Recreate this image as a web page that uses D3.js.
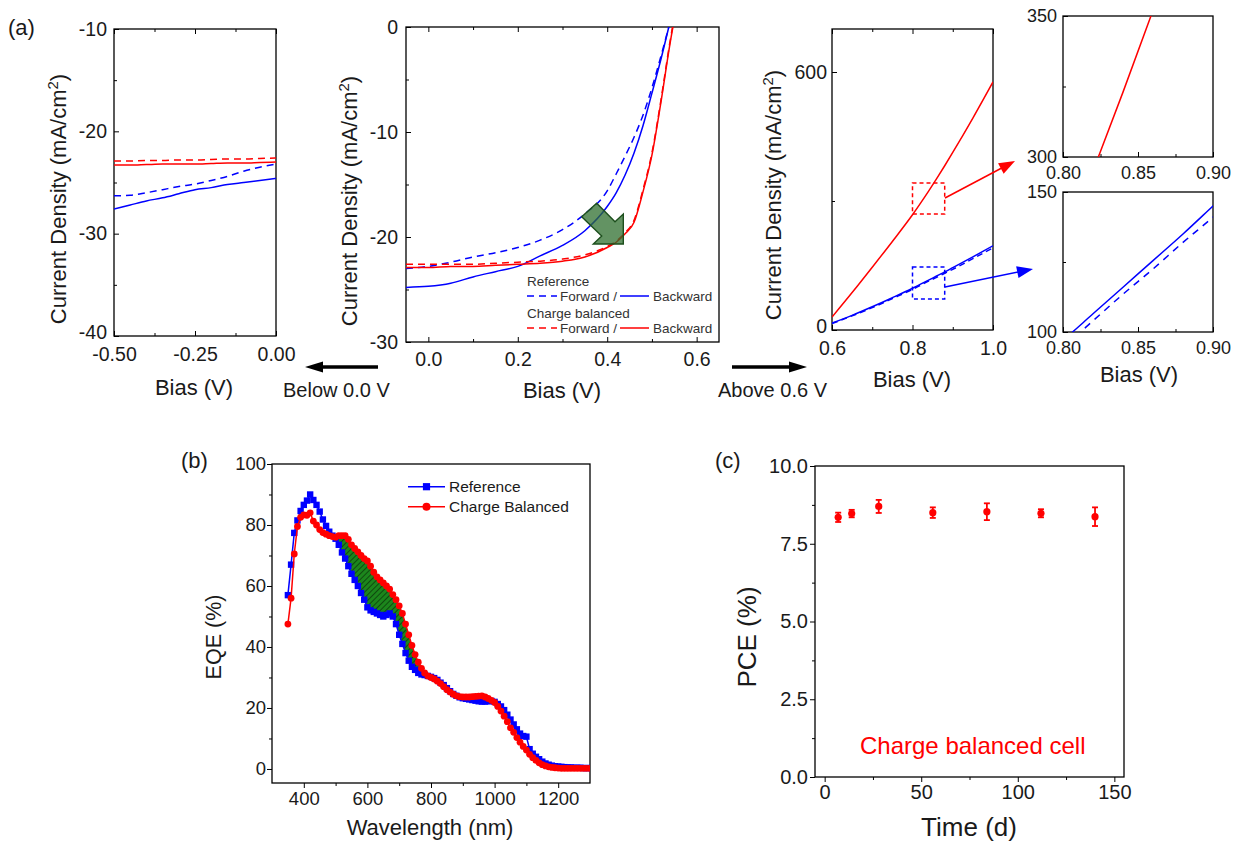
<!DOCTYPE html>
<html>
<head>
<meta charset="utf-8">
<script src="https://cdn.jsdelivr.net/npm/d3@7"></script>
<style>
  body { margin: 0; background: #fff; }
  svg { font-family: Arial, "Liberation Sans", sans-serif; }
</style>
</head>
<body>
<svg id="fig" width="1234" height="842"></svg>
<script>
// ---- (a) J-V data, below 0 V
const biasBelow = [-0.5, -0.45, -0.4, -0.35, -0.3, -0.25, -0.2, -0.15, -0.1, -0.05, 0];
const refBackBelow = [-27.6, -27.2, -26.8, -26.5, -26.1, -25.7, -25.5, -25.2, -25.0, -24.8, -24.6];
const refFwdBelow = [-26.3, -26.25, -26.0, -25.7, -25.4, -25.15, -24.8, -24.4, -23.9, -23.5, -23.2];
const cbBackBelow = [-23.3, -23.3, -23.25, -23.2, -23.2, -23.2, -23.15, -23.1, -23.1, -23.05, -23.0];
const cbFwdBelow = [-22.9, -22.9, -22.85, -22.85, -22.8, -22.8, -22.75, -22.7, -22.7, -22.65, -22.6];

// ---- (a) J-V data, main range
const biasMid = [-0.05, 0, 0.05, 0.1, 0.15, 0.2, 0.25, 0.3, 0.35, 0.4, 0.42, 0.44, 0.46, 0.48, 0.5, 0.52, 0.54, 0.56];
const refBackMid = [-24.8, -24.7, -24.4, -23.8, -23.3, -22.8, -21.8, -20.8, -19.4, -17.1, -15.8, -14.1, -12.0, -9.4, -6.3, -3.1, 0.4, 4];
const refFwdMid = [-23.0, -22.8, -22.4, -21.9, -21.5, -21.0, -20.3, -19.3, -17.8, -15.6, -14.0, -12.3, -10.5, -8.4, -5.8, -2.8, 0.4, 4];
const cbBackMid = [-22.9, -22.9, -22.8, -22.8, -22.7, -22.6, -22.5, -22.3, -21.9, -21.0, -20.5, -19.7, -18.6, -15.7, -12.2, -7.2, -1.7, 3];
const cbFwdMid = [-22.6, -22.6, -22.6, -22.6, -22.5, -22.4, -22.3, -22.1, -21.7, -20.9, -20.4, -19.6, -18.4, -15.5, -12.0, -7.0, -1.5, 3.2];

// ---- (a) J-V data, above 0.6 V (also used by the two zoom insets)
const biasAbove = [0.6, 0.65, 0.7, 0.75, 0.8, 0.82, 0.84, 0.86, 0.88, 0.9, 0.95, 1.0];
const cbBackAbove = [30, 87, 146, 206, 268, 295, 323, 352, 382, 413, 493, 577];
const refBackAbove = [16, 34, 54, 75, 97, 106.5, 116, 125.5, 135, 145, 170, 196];
const refFwdAbove = [15, 33, 52, 73, 94.5, 104, 113.5, 122.5, 132, 141, 166, 191];

// ---- (b) EQE data, 350..1300 nm every 10 nm
const wavelength = d3.range(350, 1301, 10);
const eqeRef = [57, 67, 77.4, 81.5, 84.6, 86.6, 88, 90, 88.2, 86.6,
  84.4, 81.8, 79.7, 77.8, 76.5, 75.5, 73.5, 71, 69, 66.5,
  64, 62, 60, 57.7, 55.5, 53, 52, 51.5, 51, 50.5,
  50, 50.5, 51, 50, 47.5, 44, 41, 38, 35.5, 33.5,
  32.5, 31.5, 31, 30.8, 30.5, 30.2, 29.8, 29.2, 28.3, 27.5,
  26.5, 25.5, 24.6, 24, 23.5, 23.2, 23, 22.8, 22.6, 22.4,
  22.2, 22.1, 22.1, 22.2, 22.3, 22, 21.3, 20.5, 19.3, 17.8,
  16.2, 14.6, 13, 11.6, 10.8, 10.6, 6.5, 5, 4, 3.2,
  2.4, 1.8, 1.4, 1.1, 0.9, 0.8, 0.7, 0.6, 0.5, 0.5,
  0.4, 0.4, 0.4, 0.3, 0.3, 0.3];
const eqeCb = [47.5, 56, 70.5, 79.5, 82.5, 83.3, 83.2, 84, 81.3, 80,
  78.5, 77.5, 77, 76.5, 76.2, 76, 76.5, 76.5, 76.5, 75.3,
  73.5, 72.3, 71.2, 70, 69, 68.2, 66.5, 64.5, 63, 62,
  61, 60, 59, 57.2, 55.5, 53.5, 51, 47.5, 44, 40.5,
  37.5, 35, 33, 31.5, 30.5, 30, 29.5, 28.8, 28, 27,
  26, 25.2, 24.5, 24, 23.7, 23.6, 23.6, 23.6, 23.7, 23.8,
  23.9, 24, 23.6, 23.1, 22.5, 21.8, 20.5, 19, 17.3, 15.5,
  13.5, 12, 10.3, 8.8, 7.4, 6.2, 4.8, 3.7, 2.8, 2,
  1.4, 1, 0.7, 0.5, 0.4, 0.3, 0.2, 0.2, 0.2, 0.2,
  0.2, 0.2, 0.2, 0.2, 0.2, 0.2];
const gainRange = [500, 770];

// ---- (c) stability data
const days = [7, 14, 28, 56, 84, 112, 140];
const pce = [8.35, 8.47, 8.7, 8.5, 8.53, 8.48, 8.37];
const pceErr = [0.15, 0.12, 0.21, 0.17, 0.27, 0.13, 0.3];

// ---- tick values and labels
const ticksBelowX = [-0.5, -0.25, 0], labelsBelowX = ["-0.50", "-0.25", "0.00"];
const ticksBelowY = [-40, -30, -20, -10], labelsBelowY = ["-40", "-30", "-20", "-10"];
const ticksMidX = [0, 0.2, 0.4, 0.6], labelsMidX = ["0.0", "0.2", "0.4", "0.6"];
const ticksMidY = [-30, -20, -10, 0], labelsMidY = ["-30", "-20", "-10", "0"];
const ticksAboveX = [0.6, 0.8, 1.0], labelsAboveX = ["0.6", "0.8", "1.0"];
const ticksAboveY = [0, 600], labelsAboveY = ["0", "600"];
const ticksInsetX = [0.8, 0.85, 0.9], labelsInsetX = ["0.80", "0.85", "0.90"];
const ticksEqeX = [400, 600, 800, 1000, 1200], labelsEqeX = ["400", "600", "800", "1000", "1200"];
const ticksEqeY = [0, 20, 40, 60, 80, 100], labelsEqeY = ["0", "20", "40", "60", "80", "100"];
const ticksPceX = [0, 50, 100, 150], labelsPceX = ["0", "50", "100", "150"];
const ticksPceY = [0, 2.5, 5, 7.5, 10], labelsPceY = ["0.0", "2.5", "5.0", "7.5", "10.0"];

const FONT = 'Arial, "Liberation Sans", sans-serif';
const TXT = "#1a1a1a";
const BLUE = "#0000ff", RED = "#ff0000";

const svg = d3.select("#fig");
svg.append("rect").attr("width", 1234).attr("height", 842).attr("fill", "#fff");
const defs = svg.append("defs");

let clipCount = 0;

function makePanel(cfg) {
  const x = d3.scaleLinear().domain(cfg.xDomain).range([cfg.left, cfg.right]);
  const y = d3.scaleLinear().domain(cfg.yDomain).range([cfg.bottom, cfg.top]);
  const g = svg.append("g");
  const dir = cfg.ticksIn ? -1 : 1;
  const fmt = (vals, labels) => v => labels[vals.indexOf(v)];

  function styleAxis(a) {
    a.select(".domain").remove();
    a.attr("font-size", cfg.tickFont).attr("font-family", FONT);
    a.selectAll("text").attr("fill", TXT);
    a.selectAll("line").attr("stroke", "#000").attr("stroke-width", 1);
  }

  if (cfg.xMinor) {
    g.append("g").attr("transform", `translate(0,${cfg.bottom})`)
      .call(d3.axisBottom(x).tickValues(cfg.xMinor).tickFormat(() => "").tickSizeInner(3 * dir).tickSizeOuter(0))
      .call(styleAxis);
  }
  if (cfg.yMinor) {
    g.append("g").attr("transform", `translate(${cfg.left},0)`)
      .call(d3.axisLeft(y).tickValues(cfg.yMinor).tickFormat(() => "").tickSizeInner(3 * dir).tickSizeOuter(0))
      .call(styleAxis);
  }
  g.append("g").attr("transform", `translate(0,${cfg.bottom})`)
    .call(d3.axisBottom(x).tickValues(cfg.xTicks).tickFormat(fmt(cfg.xTicks, cfg.xLabels))
      .tickSizeInner(5 * dir).tickSizeOuter(0).tickPadding(cfg.xPad))
    .call(styleAxis);
  const yAx = g.append("g").attr("transform", `translate(${cfg.left},0)`)
    .call(d3.axisLeft(y).tickValues(cfg.yTicks).tickFormat(fmt(cfg.yTicks, cfg.yLabels))
      .tickSizeInner(5 * dir).tickSizeOuter(0).tickPadding(cfg.yPad))
    .call(styleAxis);
  // lift the corner label a little so it does not collide with the first x label
  if (cfg.liftBottomY) {
    yAx.selectAll(".tick").filter(d => d === cfg.yDomain[0]).select("text").attr("y", -cfg.liftBottomY);
  }

  if (cfg.mirror) {
    g.append("g").attr("transform", `translate(0,${cfg.top})`)
      .call(d3.axisTop(x).tickValues(cfg.xTicks).tickFormat(() => "").tickSizeInner(-5).tickSizeOuter(0))
      .call(styleAxis);
    if (cfg.xMinor) {
      g.append("g").attr("transform", `translate(0,${cfg.top})`)
        .call(d3.axisTop(x).tickValues(cfg.xMinor).tickFormat(() => "").tickSizeInner(-3).tickSizeOuter(0))
        .call(styleAxis);
    }
  }

  g.append("rect")
    .attr("x", cfg.left).attr("y", cfg.top)
    .attr("width", cfg.right - cfg.left).attr("height", cfg.bottom - cfg.top)
    .attr("fill", "none").attr("stroke", "#000").attr("stroke-width", 1.3);

  const clipId = "clip" + (clipCount++);
  defs.append("clipPath").attr("id", clipId).append("rect")
    .attr("x", cfg.left).attr("y", cfg.top)
    .attr("width", cfg.right - cfg.left).attr("height", cfg.bottom - cfg.top);
  const plot = svg.append("g").attr("clip-path", `url(#${clipId})`);

  return { x, y, g, plot };
}

function yTitle(cx, cy, size, text, sup, tail) {
  const t = svg.append("text")
    .attr("transform", `translate(${cx},${cy}) rotate(-90)`)
    .attr("text-anchor", "middle").attr("font-size", size).attr("fill", TXT)
    .text(text);
  if (sup) {
    t.append("tspan").attr("dy", -size * 0.38).attr("font-size", size * 0.68).text(sup);
    t.append("tspan").attr("dy", size * 0.38).text(tail);
  }
}

function xTitle(cx, by, size, text) {
  svg.append("text").attr("x", cx).attr("y", by).attr("text-anchor", "middle")
    .attr("font-size", size).attr("fill", TXT).text(text);
}

function addText(x, y, size, text, color, anchor) {
  svg.append("text").attr("x", x).attr("y", y).attr("font-size", size)
    .attr("text-anchor", anchor || "start").attr("fill", color || TXT).text(text);
}

function drawArrow(x1, y1, x2, y2, color, width, headLen, headWid) {
  const dx = x2 - x1, dy = y2 - y1, L = Math.hypot(dx, dy);
  const ux = dx / L, uy = dy / L;
  const bx = x2 - ux * headLen, by = y2 - uy * headLen;
  svg.append("line").attr("x1", x1).attr("y1", y1).attr("x2", bx + ux).attr("y2", by + uy)
    .attr("stroke", color).attr("stroke-width", width);
  const px = -uy * headWid / 2, py = ux * headWid / 2;
  svg.append("path")
    .attr("d", `M${x2},${y2}L${bx + px},${by + py}L${bx - px},${by - py}Z`)
    .attr("fill", color);
}

function jvLine(p, xs, ys, color, dashed, width) {
  const line = d3.line().x(d => p.x(d[0])).y(d => p.y(d[1])).curve(d3.curveMonotoneX);
  p.plot.append("path").attr("d", line(d3.zip(xs, ys)))
    .attr("fill", "none").attr("stroke", color).attr("stroke-width", width || 1.5)
    .attr("stroke-dasharray", dashed ? dashed : null);
}

// ================= (a) left: below 0 V =================
const pBelow = makePanel({
  left: 114, right: 276, top: 29, bottom: 336,
  xDomain: [-0.5, 0], yDomain: [-40, -10],
  xTicks: ticksBelowX, xLabels: labelsBelowX, xMinor: [-0.375, -0.125],
  yTicks: ticksBelowY, yLabels: labelsBelowY, yMinor: [-35, -25, -15],
  ticksIn: true, mirror: true, tickFont: 19.5, xPad: 11, yPad: 7, liftBottomY: 4
});
jvLine(pBelow, biasBelow, refFwdBelow, BLUE, "7,5");
jvLine(pBelow, biasBelow, refBackBelow, BLUE);
jvLine(pBelow, biasBelow, cbFwdBelow, RED, "7,5");
jvLine(pBelow, biasBelow, cbBackBelow, RED);
yTitle(66, 199, 22, "Current Density (mA/cm", "2", ")");
xTitle(194, 395, 22, "Bias (V)");

// ================= (a) middle: full J-V =================
const pMid = makePanel({
  left: 406, right: 719, top: 27, bottom: 342,
  xDomain: [-0.05, 0.65], yDomain: [-30, 0],
  xTicks: ticksMidX, xLabels: labelsMidX, xMinor: [0.1, 0.3, 0.5],
  yTicks: ticksMidY, yLabels: labelsMidY, yMinor: [-25, -15, -5],
  ticksIn: true, mirror: true, tickFont: 19.5, xPad: 10, yPad: 8
});
jvLine(pMid, biasMid, refFwdMid, BLUE, "7,5");
jvLine(pMid, biasMid, refBackMid, BLUE);
jvLine(pMid, biasMid, cbFwdMid, RED, "7,5");
jvLine(pMid, biasMid, cbBackMid, RED);
yTitle(357, 201, 22, "Current Density (mA/cm", "2", ")");
xTitle(562, 398, 22, "Bias (V)");

// green improvement arrow (annotation)
svg.append("path")
  .attr("d", "M581.7,216.7L596.7,203.3L615,221.7L623.3,214L623.3,244L593.3,244L601.7,236Z")
  .attr("fill", "#2f6f2f").attr("fill-opacity", 0.75)
  .attr("stroke", "#1d4f1d").attr("stroke-width", 1.4);

// legend inside middle panel
const legA = svg.append("g").attr("font-size", 13.5).attr("fill", "#333");
legA.append("text").attr("x", 527).attr("y", 286).text("Reference");
legA.append("line").attr("x1", 527).attr("x2", 557).attr("y1", 296).attr("y2", 296)
  .attr("stroke", BLUE).attr("stroke-width", 1.5).attr("stroke-dasharray", "7,5");
legA.append("text").attr("x", 560).attr("y", 301).text("Forward /");
legA.append("line").attr("x1", 620).attr("x2", 649).attr("y1", 296).attr("y2", 296)
  .attr("stroke", BLUE).attr("stroke-width", 1.5);
legA.append("text").attr("x", 653).attr("y", 301).text("Backward");
legA.append("text").attr("x", 527).attr("y", 318).text("Charge balanced");
legA.append("line").attr("x1", 527).attr("x2", 557).attr("y1", 328).attr("y2", 328)
  .attr("stroke", RED).attr("stroke-width", 1.5).attr("stroke-dasharray", "7,5");
legA.append("text").attr("x", 560).attr("y", 333).text("Forward /");
legA.append("line").attr("x1", 620).attr("x2", 649).attr("y1", 328).attr("y2", 328)
  .attr("stroke", RED).attr("stroke-width", 1.5);
legA.append("text").attr("x", 653).attr("y", 333).text("Backward");

// ================= (a) right: above 0.6 V =================
const pAbove = makePanel({
  left: 832, right: 993, top: 29, bottom: 330,
  xDomain: [0.6, 1.0], yDomain: [0, 700],
  xTicks: ticksAboveX, xLabels: labelsAboveX, xMinor: [0.7, 0.9],
  yTicks: ticksAboveY, yLabels: labelsAboveY, yMinor: [300],
  ticksIn: true, mirror: true, tickFont: 19.5, xPad: 11, yPad: 5, liftBottomY: 4
});
jvLine(pAbove, biasAbove, cbBackAbove, RED);
jvLine(pAbove, biasAbove, refBackAbove, BLUE);
jvLine(pAbove, biasAbove, refFwdAbove, BLUE, "6,4");
yTitle(781, 195, 22, "Current Density (mA/cm", "2", ")");
xTitle(912, 387, 22, "Bias (V)");

// dashed zoom boxes
[[RED, [270, 342]], [BLUE, [72, 146.5]]].forEach(([c, r]) => {
  svg.append("rect")
    .attr("x", pAbove.x(0.8)).attr("y", pAbove.y(r[1]))
    .attr("width", pAbove.x(0.88) - pAbove.x(0.8)).attr("height", pAbove.y(r[0]) - pAbove.y(r[1]))
    .attr("fill", "none").attr("stroke", c).attr("stroke-width", 1.5).attr("stroke-dasharray", "4,3");
});

// ================= (a) insets =================
const pInsetTop = makePanel({
  left: 1063, right: 1213, top: 16, bottom: 157,
  xDomain: [0.8, 0.9], yDomain: [300, 350],
  xTicks: ticksInsetX, xLabels: labelsInsetX, xMinor: [0.825, 0.875],
  yTicks: [300, 350], yLabels: ["300", "350"], yMinor: [325],
  ticksIn: true, mirror: false, tickFont: 18, xPad: 9, yPad: 6
});
jvLine(pInsetTop, biasAbove, cbBackAbove, RED);

const pInsetBot = makePanel({
  left: 1063, right: 1213, top: 192, bottom: 332,
  xDomain: [0.8, 0.9], yDomain: [100, 150],
  xTicks: ticksInsetX, xLabels: labelsInsetX, xMinor: [0.825, 0.875],
  yTicks: [100, 150], yLabels: ["100", "150"], yMinor: [125],
  ticksIn: true, mirror: false, tickFont: 18, xPad: 9, yPad: 6
});
jvLine(pInsetBot, biasAbove, refBackAbove, BLUE);
jvLine(pInsetBot, biasAbove, refFwdAbove, BLUE, "7,6");
xTitle(1139, 382, 22, "Bias (V)");

// zoom arrows
drawArrow(945, 198, 1015, 161, RED, 1.5, 16, 12);
drawArrow(945, 287, 1033, 269, BLUE, 1.5, 16, 12);

// range arrows
drawArrow(378, 367, 305, 367, "#000", 3.5, 18, 11);
drawArrow(732, 367, 807, 367, "#000", 3.5, 18, 11);
addText(283, 397, 20, "Below 0.0 V");
addText(718, 397, 20, "Above 0.6 V");

addText(8, 35, 22, "(a)");

// ================= (b) EQE =================
const pEqe = makePanel({
  left: 272, right: 590, top: 464, bottom: 783,
  xDomain: [300, 1300], yDomain: [-4.6, 100],
  xTicks: ticksEqeX, xLabels: labelsEqeX, xMinor: [500, 700, 900, 1100],
  yTicks: ticksEqeY, yLabels: labelsEqeY, yMinor: [10, 30, 50, 70, 90],
  ticksIn: false, mirror: false, tickFont: 18.5, xPad: 4, yPad: 1
});

const pat = defs.append("pattern").attr("id", "hatch").attr("patternUnits", "userSpaceOnUse")
  .attr("width", 4).attr("height", 4).attr("patternTransform", "rotate(45)");
pat.append("rect").attr("width", 4).attr("height", 4).attr("fill", "#1c861c");
pat.append("line").attr("x1", 0).attr("y1", 0).attr("x2", 0).attr("y2", 4)
  .attr("stroke", "#0b3a0b").attr("stroke-width", 1.6);

const eqeRows = wavelength.map((w, i) => ({ w, ref: eqeRef[i], cb: eqeCb[i] }));
const gainRows = eqeRows.filter(d => d.w >= gainRange[0] && d.w <= gainRange[1]);
pEqe.plot.append("path")
  .attr("d", d3.area().x(d => pEqe.x(d.w)).y0(d => pEqe.y(d.ref)).y1(d => pEqe.y(d.cb))(gainRows))
  .attr("fill", "url(#hatch)");

const eqeLine = key => d3.line().x(d => pEqe.x(d.w)).y(d => pEqe.y(d[key]));
pEqe.plot.append("path").attr("d", eqeLine("ref")(eqeRows))
  .attr("fill", "none").attr("stroke", BLUE).attr("stroke-width", 1.5);
pEqe.plot.selectAll(".sq").data(eqeRows).enter().append("rect")
  .attr("x", d => pEqe.x(d.w) - 3.2).attr("y", d => pEqe.y(d.ref) - 3.2)
  .attr("width", 6.4).attr("height", 6.4).attr("fill", BLUE);
pEqe.plot.append("path").attr("d", eqeLine("cb")(eqeRows))
  .attr("fill", "none").attr("stroke", RED).attr("stroke-width", 1.5);
pEqe.plot.selectAll(".dot").data(eqeRows).enter().append("circle")
  .attr("cx", d => pEqe.x(d.w)).attr("cy", d => pEqe.y(d.cb)).attr("r", 3.4).attr("fill", RED);

yTitle(221, 637, 21.5, "EQE (%)");
xTitle(430, 835, 22, "Wavelength (nm)");
addText(181, 468, 22, "(b)");

// legend (b)
svg.append("line").attr("x1", 408).attr("x2", 445).attr("y1", 486.7).attr("y2", 486.7)
  .attr("stroke", BLUE).attr("stroke-width", 1.5);
svg.append("rect").attr("x", 426.5 - 3.6).attr("y", 486.7 - 3.6).attr("width", 7.2).attr("height", 7.2).attr("fill", BLUE);
addText(449, 492, 15.5, "Reference");
svg.append("line").attr("x1", 408).attr("x2", 445).attr("y1", 506.7).attr("y2", 506.7)
  .attr("stroke", RED).attr("stroke-width", 1.5);
svg.append("circle").attr("cx", 426.5).attr("cy", 506.7).attr("r", 4).attr("fill", RED);
addText(449, 512, 15.5, "Charge Balanced");

// ================= (c) PCE stability =================
const pPce = makePanel({
  left: 815, right: 1124, top: 466, bottom: 777,
  xDomain: [-5, 155], yDomain: [0, 10],
  xTicks: ticksPceX, xLabels: labelsPceX, xMinor: [25, 75, 125],
  yTicks: ticksPceY, yLabels: labelsPceY, yMinor: [1.25, 3.75, 6.25, 8.75],
  ticksIn: false, mirror: false, tickFont: 20, xPad: 3, yPad: 2
});
const pceRows = days.map((d, i) => ({ d, v: pce[i], e: pceErr[i] }));
const eb = pPce.plot.selectAll(".eb").data(pceRows).enter().append("g")
  .attr("stroke", RED).attr("stroke-width", 1.8);
eb.append("line").attr("x1", d => pPce.x(d.d)).attr("x2", d => pPce.x(d.d))
  .attr("y1", d => pPce.y(d.v - d.e)).attr("y2", d => pPce.y(d.v + d.e));
eb.append("line").attr("x1", d => pPce.x(d.d) - 3).attr("x2", d => pPce.x(d.d) + 3)
  .attr("y1", d => pPce.y(d.v + d.e)).attr("y2", d => pPce.y(d.v + d.e));
eb.append("line").attr("x1", d => pPce.x(d.d) - 3).attr("x2", d => pPce.x(d.d) + 3)
  .attr("y1", d => pPce.y(d.v - d.e)).attr("y2", d => pPce.y(d.v - d.e));
pPce.plot.selectAll(".pt").data(pceRows).enter().append("circle")
  .attr("cx", d => pPce.x(d.d)).attr("cy", d => pPce.y(d.v)).attr("r", 3.6).attr("fill", RED);

addText(860, 754, 24, "Charge balanced cell", RED);
yTitle(756, 637, 26, "PCE (%)");
xTitle(969, 836, 26, "Time (d)");
addText(715, 468, 22, "(c)");
</script>
</body>
</html>
